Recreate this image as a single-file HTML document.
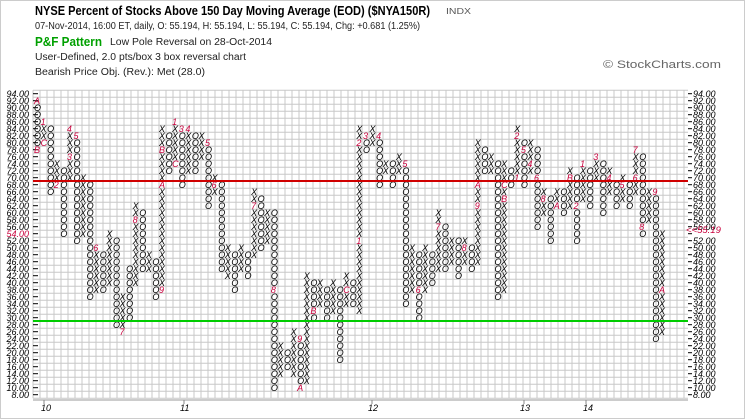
<!DOCTYPE html>
<html><head><meta charset="utf-8"><style>
html,body{margin:0;padding:0;background:#fff;}
#w{position:relative;width:745px;height:419px;overflow:hidden;font-family:"Liberation Sans",Arial,sans-serif;}
</style></head><body><div id="w">
<svg id="s" width="745" height="419" style="position:absolute;left:0;top:0;" xmlns="http://www.w3.org/2000/svg">
<g font-family="Liberation Sans, Arial, sans-serif">
<text x="35" y="15" font-size="12.5" font-weight="bold" textLength="395" lengthAdjust="spacingAndGlyphs">NYSE Percent of Stocks Above 150 Day Moving Average (EOD) ($NYA150R)</text>
<text x="446" y="14" font-size="8.5" fill="#555" textLength="25" lengthAdjust="spacingAndGlyphs">INDX</text>
<text x="35" y="29" font-size="10" fill="#222" textLength="385" lengthAdjust="spacingAndGlyphs">07-Nov-2014, 16:00 ET, daily, O: 55.194, H: 55.194, L: 55.194, C: 55.194, Chg: +0.681 (1.25%)</text>
<text x="35" y="46" font-size="13" font-weight="bold" fill="#00a000" textLength="67" lengthAdjust="spacingAndGlyphs">P&amp;F Pattern</text>
<text x="110" y="45" font-size="10" fill="#222" textLength="162" lengthAdjust="spacingAndGlyphs">Low Pole Reversal on 28-Oct-2014</text>
<text x="35" y="60" font-size="10" fill="#222" textLength="211" lengthAdjust="spacingAndGlyphs">User-Defined, 2.0 pts/box 3 box reversal chart</text>
<text x="35" y="75" font-size="10" fill="#222" textLength="170" lengthAdjust="spacingAndGlyphs">Bearish Price Obj. (Rev.): Met (28.0)</text>
<text x="603" y="68" font-size="11" fill="#666" textLength="118" lengthAdjust="spacingAndGlyphs">© StockCharts.com</text>
</g>
<g id="grid" stroke="#c8c8c8" stroke-width="1"></g>
<g id="ax"></g>
<g id="pf" font-family="Liberation Sans, Arial, sans-serif" font-style="italic" font-size="9"></g>
<line x1="33" y1="181" x2="688" y2="181" stroke="#d00000" stroke-width="2"/>
<line x1="33" y1="321" x2="688" y2="321" stroke="#00cc00" stroke-width="2"/>
<g font-family="Liberation Sans, Arial, sans-serif" font-style="italic" font-size="9" fill="#000">
<text x="41" y="411">10</text><text x="180" y="411">11</text><text x="368" y="411">12</text><text x="520" y="411">13</text><text x="583" y="411">14</text>
</g>
<g stroke="#888"><line x1="44" y1="400" x2="44" y2="404"/><line x1="184" y1="400" x2="184" y2="404"/><line x1="372" y1="400" x2="372" y2="404"/><line x1="524" y1="400" x2="524" y2="404"/><line x1="586" y1="400" x2="586" y2="404"/></g>
<rect x="0.5" y="0.5" width="744" height="418" fill="none" stroke="#ccc"/>
</svg>
</div>
<script>
var NS="http://www.w3.org/2000/svg";
function Y(v){return 100.7+(92-v)*3.5;}
function el(p,n,a,t){var e=document.createElementNS(NS,n);for(var k in a)e.setAttribute(k,a[k]);if(t!=null)e.textContent=t;p.appendChild(e);return e;}
var g=document.getElementById('grid');
for(var v=94;v>=8;v-=2){el(g,'line',{x1:33,x2:688,y1:Y(v)-3.5,y2:Y(v)-3.5});}
el(g,'line',{x1:33,x2:688,y1:Y(8)+3.5,y2:Y(8)+3.5});
for(var x=33;x<=688;x+=7){el(g,'line',{x1:x,x2:x,y1:Y(94)-3.5,y2:Y(8)+3.5});}
el(g,'line',{x1:33,x2:688,y1:400,y2:400,stroke:'#999'});
var ax=document.getElementById('ax');
for(var v=94;v>=8;v-=2){
 var s=v.toFixed(2);
 var red=(v==54);
 el(ax,'text',{x:29,y:Y(v)+3.5,'text-anchor':'end','font-size':9,'font-style':'italic','font-family':'Liberation Sans, Arial, sans-serif',fill:red?'#c8003c':'#000'},s);
 el(ax,'line',{x1:33,x2:38,y1:Y(v),y2:Y(v),stroke:'#000'});
 el(ax,'line',{x1:688,x2:692,y1:Y(v),y2:Y(v),stroke:'#000'});
 if(v!=54) el(ax,'text',{x:693,y:Y(v)+3.5,'font-size':9,'font-style':'italic','font-family':'Liberation Sans, Arial, sans-serif',fill:'#000'},s);
}
el(ax,'text',{x:686,y:Y(55.2)+3.5,'font-size':9.5,'font-style':'italic','font-family':'Liberation Sans, Arial, sans-serif',fill:'#c8003c'},'<<55.19');
var C=[
['O',78,92,{92:'A',78:'B'}],['X',80,86,{86:'1',80:'C'}],['O',66,84],['X',68,74,{68:'2'}],['O',54,72],['X',70,84,{84:'4',76:'3'}],['O',52,82,{82:'5'}],['X',54,70],['O',36,68],['X',38,50,{50:'6'}],
['O',38,48],['X',40,54],['O',28,52],['X',26,36,{26:'7'}],['O',30,44],['X',40,62,{58:'8'}],['O',44,60],['X',44,48],['O',36,46],['X',38,84,{38:'9',68:'A',78:'B'}],
['O',72,82],['X',74,86,{86:'1',74:'C'}],['O',68,84,{84:'3'}],['X',72,84,{84:'4'}],['O',72,82],['X',76,82],['O',62,80,{80:'5'}],['X',66,70,{68:'6'}],['O',44,68],['X',42,50],
['O',38,48],['X',44,50],['O',42,48],['X',48,66,{62:'7'}],['O',50,64],['X',52,60],['O',10,60,{38:'8'}],['X',14,22],['O',16,20],['X',14,26],
['O',10,24,{24:'9',10:'A'}],['X',12,42],['O',30,40,{32:'B'}],['X',34,40],['O',30,38],['X',32,40],['O',18,38],['X',34,42,{38:'C'}],['O',34,40],['X',32,84,{52:'1',80:'2'}],
['O',78,82,{82:'3'}],['X',80,84],['O',68,82,{82:'4'}],['X',72,74],['O',68,74],['X',72,76],['O',34,74,{74:'5'}],['X',38,50],['O',30,48,{38:'6'}],['X',38,50],
['O',40,48],['X',44,60,{56:'7'}],['O',44,56],['X',46,52],['O',42,52],['X',46,52,{50:'8'}],['O',44,50],['X',46,80,{68:'A',62:'9'}],['O',72,78],['X',72,76],
['O',36,74],['X',38,74,{68:'C',64:'B'}],['O',68,72],['X',70,84,{82:'2',70:'1'}],['O',68,80,{78:'5'}],['X',72,80,{74:'4'}],['O',56,78,{70:'6'}],['X',60,66,{64:'8'}],['O',52,64],['X',62,66,{62:'A'}],
['O',60,66],['X',62,72,{70:'B'}],['O',52,70,{62:'2'}],['X',64,74,{74:'1'}],['O',62,72],['X',70,76,{76:'3'}],['O',60,74],['X',66,72,{70:'4'}],['O',62,68],['X',64,70,{68:'5'}],
['O',62,68],['X',66,78,{78:'7',70:'6'}],['O',54,76,{56:'8'}],['X',58,66],['O',24,66,{66:'9'}],['X',26,54,{38:'A'}]
];
var pf=document.getElementById('pf');var N=C.length;
for(var i=0;i<N;i++){
 var c=C[i],cx=34+(659-34)*i/(N-1),lb=c[3]||{};
 for(var v=c[1];v<=c[2];v+=2){
  var t=lb[v];
  el(pf,'text',{x:cx,y:Y(v)+3.3,fill:t?'#c8003c':'#000'},t?t:c[0]);
 }
}
</script>
</body></html>
